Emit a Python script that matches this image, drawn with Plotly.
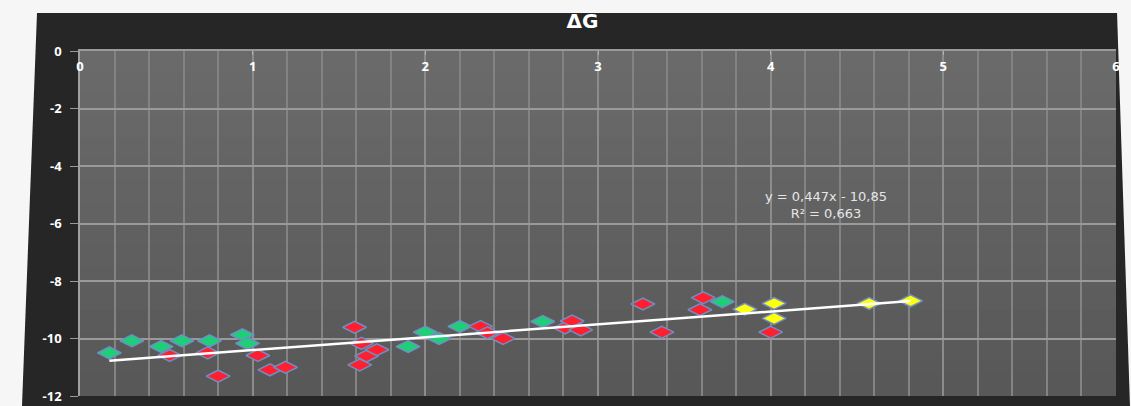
import plotly.graph_objects as go

# ---- data ----
green_x = [0.17, 0.30, 0.47, 0.59, 0.75, 0.94, 0.97, 1.90, 2.00, 2.08, 2.20, 2.68, 3.72]
green_y = [-10.50, -10.08, -10.28, -10.08, -10.08, -9.87, -10.17, -10.28, -9.78, -10.00, -9.58, -9.41, -8.72]

red_x = [0.52, 0.74, 0.80, 1.03, 1.10, 1.19, 1.59, 1.63, 1.66, 1.72, 1.62,
         2.32, 2.36, 2.45, 2.81, 2.85, 2.90, 3.26, 3.37, 3.59, 3.61, 4.00]
red_y = [-10.59, -10.50, -11.31, -10.59, -11.09, -11.00, -9.61, -10.17, -10.61, -10.39, -10.92,
         -9.58, -9.80, -10.00, -9.63, -9.39, -9.70, -8.80, -9.78, -9.00, -8.58, -9.78]

yellow_x = [3.85, 4.02, 4.02, 4.57, 4.81]
yellow_y = [-8.98, -8.78, -9.30, -8.78, -8.69]

trend_slope = 0.447
trend_intercept = -10.85
trend_label = "y = 0,447x - 10,85<br>R² = 0,663"
chart_title = "ΔG"

x_ticks = [0, 1, 2, 3, 4, 5, 6]
y_ticks = [0, -2, -4, -6, -8, -10, -12]

all_x = green_x + red_x + yellow_x
tx = [min(all_x), max(all_x)]
ty = [trend_slope * v + trend_intercept for v in tx]

marker_line = dict(color="#6f8fc4", width=1.5)

fig = go.Figure()
for xs, ys, col in [(green_x, green_y, "#1fcf78"), (red_x, red_y, "#ff1f2e"), (yellow_x, yellow_y, "#ffff10")]:
    fig.add_trace(go.Scatter(x=xs, y=ys, mode="markers",
                             marker=dict(symbol="diamond-wide", size=17, color=col, line=marker_line),
                             showlegend=False, hoverinfo="skip"))
fig.add_trace(go.Scatter(x=tx, y=ty, mode="lines", line=dict(color="white", width=2.5),
                         showlegend=False, hoverinfo="skip"))

W, H = 1131, 406
L, R, T, B = 80, 15, 51, 10
pw, ph = W - L - R, H - T - B

def px(xp):
    return (xp - L) / pw

def py(yp):
    return (H - B - yp) / ph

dark_path = "M {:.4f},{:.4f} L {:.4f},{:.4f} L {:.4f},{:.4f} L {:.4f},{:.4f} Z".format(
    px(37), py(13), px(1117), py(13), px(1130), py(406), px(22), py(406))

shapes = [
    dict(type="path", path=dark_path, xref="paper", yref="paper", layer="below",
         fillcolor="#262626", line=dict(width=0)),
]
# plot-area background with a soft vertical shading (lighter at top); overlapping bands avoid seams
n_bands = 16
top_c, bot_c = (0x6b, 0x6b, 0x6b), (0x57, 0x57, 0x57)
for i in range(n_bands):
    f = (i + 0.5) / n_bands
    c = tuple(int(round(top_c[k] + (bot_c[k] - top_c[k]) * f)) for k in range(3))
    shapes.append(dict(type="rect", x0=0, x1=1, y0=0, y1=1 - i / n_bands,
                       xref="paper", yref="paper", layer="below",
                       fillcolor="rgb({},{},{})".format(*c), line=dict(width=0)))

fig.update_layout(
    width=W, height=H,
    margin=dict(l=L, r=R, t=T, b=B, autoexpand=False),
    paper_bgcolor="#f6f6f6",
    plot_bgcolor="#5f5f5f",
    title=dict(text=chart_title, x=0.515, xanchor="center", y=1 - 21 / H, yanchor="middle",
               yref="container",
               font=dict(family="DejaVu Sans", size=20, color="white", weight="bold")),
    shapes=shapes,
    annotations=[
        dict(text=trend_label, x=4.32, y=-5.35, xref="x", yref="y", showarrow=False,
             font=dict(family="DejaVu Sans", size=13, color="#e6e6e6"), align="center")
    ],
)

fig.update_xaxes(
    range=[0, 6], side="top", tickvals=x_ticks, ticktext=[str(v) for v in x_ticks],
    ticklabelposition="inside", ticks="inside", ticklen=4, tickcolor="#b0b0b0",
    ticklabelstandoff=7, ticklabeloverflow="allow", automargin=False,
    tickfont=dict(family="Open Sans", size=13, color="white", weight="bold"),
    showgrid=True, gridcolor="#8c8c8c", gridwidth=1.5,
    minor=dict(dtick=0.2, showgrid=True, gridcolor="#838383", gridwidth=1.5),
    zeroline=False, showline=True, linecolor="#9a9a9a", linewidth=1.5, mirror=False,
    fixedrange=True,
)
fig.update_yaxes(
    range=[-12, 0], tickvals=y_ticks, ticktext=[str(v) for v in y_ticks],
    ticks="outside", ticklen=8, tickcolor="#9a9a9a", ticklabelstandoff=6,
    ticklabeloverflow="allow", automargin=False,
    tickfont=dict(family="Open Sans", size=13, color="white", weight="bold"),
    showgrid=True, gridcolor="#9a9a9a", gridwidth=1.5,
    zeroline=False, showline=True, linecolor="#a0a0a0", linewidth=1.5,
    fixedrange=True,
)

fig.write_html("out.html")
